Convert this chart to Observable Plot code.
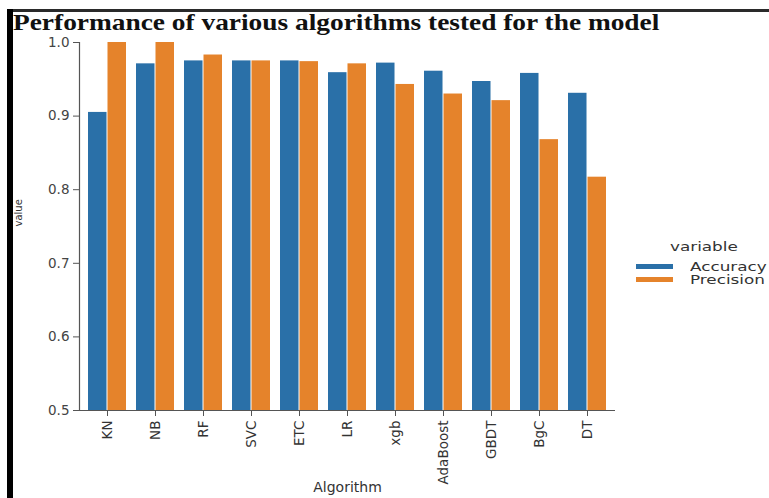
<!DOCTYPE html>
<html>
<head>
<meta charset="utf-8">
<script src="https://cdn.jsdelivr.net/npm/d3@7"></script>
<script src="https://cdn.jsdelivr.net/npm/@observablehq/plot@0.6"></script>
<style>
  html, body { margin: 0; padding: 0; background: #fff; }
  #wrap { position: relative; width: 769px; height: 498px; overflow: hidden; background: #fff; }
  #borderTop { position: absolute; left: 7px; top: 9px; width: 762px; height: 3px; background: #2a2a2a; }
  #borderLeft { position: absolute; left: 7px; top: 9px; width: 6px; height: 489px; background: #000; }
  #title { position: absolute; left: 13px; top: 11px; font-family: "Liberation Serif", "Times New Roman", serif; font-weight: bold; font-size: 23px; line-height: 23px; color: #111; white-space: nowrap; transform: scaleX(1.19); transform-origin: 0 0; }
  #chart { position: absolute; left: 0; top: 0; }
  #legend { position: absolute; left: 636px; top: 238px; font-family: "DejaVu Sans", sans-serif; font-size: 12px; color: #333; white-space: nowrap; }
  #legend .ttl { display: block; margin-left: 34px; line-height: 18px; height: 22px; transform: scaleX(1.4); transform-origin: 0 50%; }
  #legend .row { display: flex; align-items: center; height: 13px; }
  #legend .sw { width: 37px; height: 5px; margin-right: 17px; flex: none; }
  #legend .lab { display: inline-block; transform: scaleX(1.4); transform-origin: 0 50%; }
</style>
</head>
<body>
<div id="wrap">
  <div id="chart"></div>
  <div id="borderTop"></div>
  <div id="borderLeft"></div>
  <div id="title"></div>
  <div id="legend"></div>
</div>
<script>
const titleText = "Performance of various algorithms tested for the model";
const algorithms = ["KN", "NB", "RF", "SVC", "ETC", "LR", "xgb", "AdaBoost", "GBDT", "BgC", "DT"];
const accuracy  = [0.905, 0.971, 0.975, 0.975, 0.975, 0.959, 0.972, 0.961, 0.947, 0.958, 0.931];
const precision = [1.000, 1.000, 0.983, 0.975, 0.974, 0.971, 0.943, 0.930, 0.921, 0.868, 0.817];
const variables = ["Accuracy", "Precision"];
const colors = ["#2a70a8", "#e5832b"];
const yTicks = [0.5, 0.6, 0.7, 0.8, 0.9, 1.0];
const legendTitle = "variable";
const xLabel = "Algorithm";
const yLabel = "value";

const table = [];
algorithms.forEach((a, i) => {
  table.push({alg: a, variable: variables[0], value: accuracy[i]});
  table.push({alg: a, variable: variables[1], value: precision[i]});
});

const W = 640, H = 498;
const mL = 79, mR = 25, mT = 42, mB = 88;
const step = (W - mL - mR) / algorithms.length;
const half = step * 0.8 / 2;

const chart = Plot.plot({
  width: W,
  height: H,
  marginLeft: mL,
  marginRight: mR,
  marginTop: mT,
  marginBottom: mB,
  style: {fontFamily: "DejaVu Sans, sans-serif", fontSize: "12px", color: "#333", background: "transparent"},
  x: {domain: algorithms, paddingInner: 0.2, paddingOuter: 0.1, label: null},
  y: {domain: [0.5, 1.0], label: null},
  color: {domain: variables, range: colors},
  marks: [
    Plot.barY(table.filter(d => d.variable === variables[0]), {x: "alg", y1: 0.5, y2: "value", fill: "variable", insetRight: half}),
    Plot.barY(table.filter(d => d.variable === variables[1]), {x: "alg", y1: 0.5, y2: "value", fill: "variable", insetLeft: half}),
    Plot.ruleY([0.5], {stroke: "#555", strokeWidth: 1.2}),
    Plot.frame({anchor: "left", stroke: "#555", strokeWidth: 1.2}),
    Plot.axisY({ticks: yTicks, tickFormat: ".1f", tickSize: 6, tickPadding: 4, label: null, stroke: "#555", fill: "#444", fontSize: 13.5}),
    Plot.text([yLabel], {frameAnchor: "left", dx: -61, rotate: -90, fontSize: 10, fill: "#333"}),
    Plot.axisX({tickRotate: -90, tickSize: 6, tickPadding: 4, label: null, stroke: "#555", fill: "#333", fontSize: 13.5}),
    Plot.text([xLabel], {frameAnchor: "bottom", dy: 81, fontSize: 14, fill: "#333"})
  ]
});
document.getElementById("chart").appendChild(chart);
document.getElementById("title").textContent = titleText;

const lg = document.getElementById("legend");
const t = document.createElement("div");
t.className = "ttl";
t.textContent = legendTitle;
lg.appendChild(t);
variables.forEach((v, i) => {
  const row = document.createElement("div");
  row.className = "row";
  const sw = document.createElement("div");
  sw.className = "sw";
  sw.style.background = colors[i];
  const lab = document.createElement("span");
  lab.className = "lab";
  lab.textContent = v;
  row.appendChild(sw);
  row.appendChild(lab);
  lg.appendChild(row);
});
</script>
</body>
</html>
